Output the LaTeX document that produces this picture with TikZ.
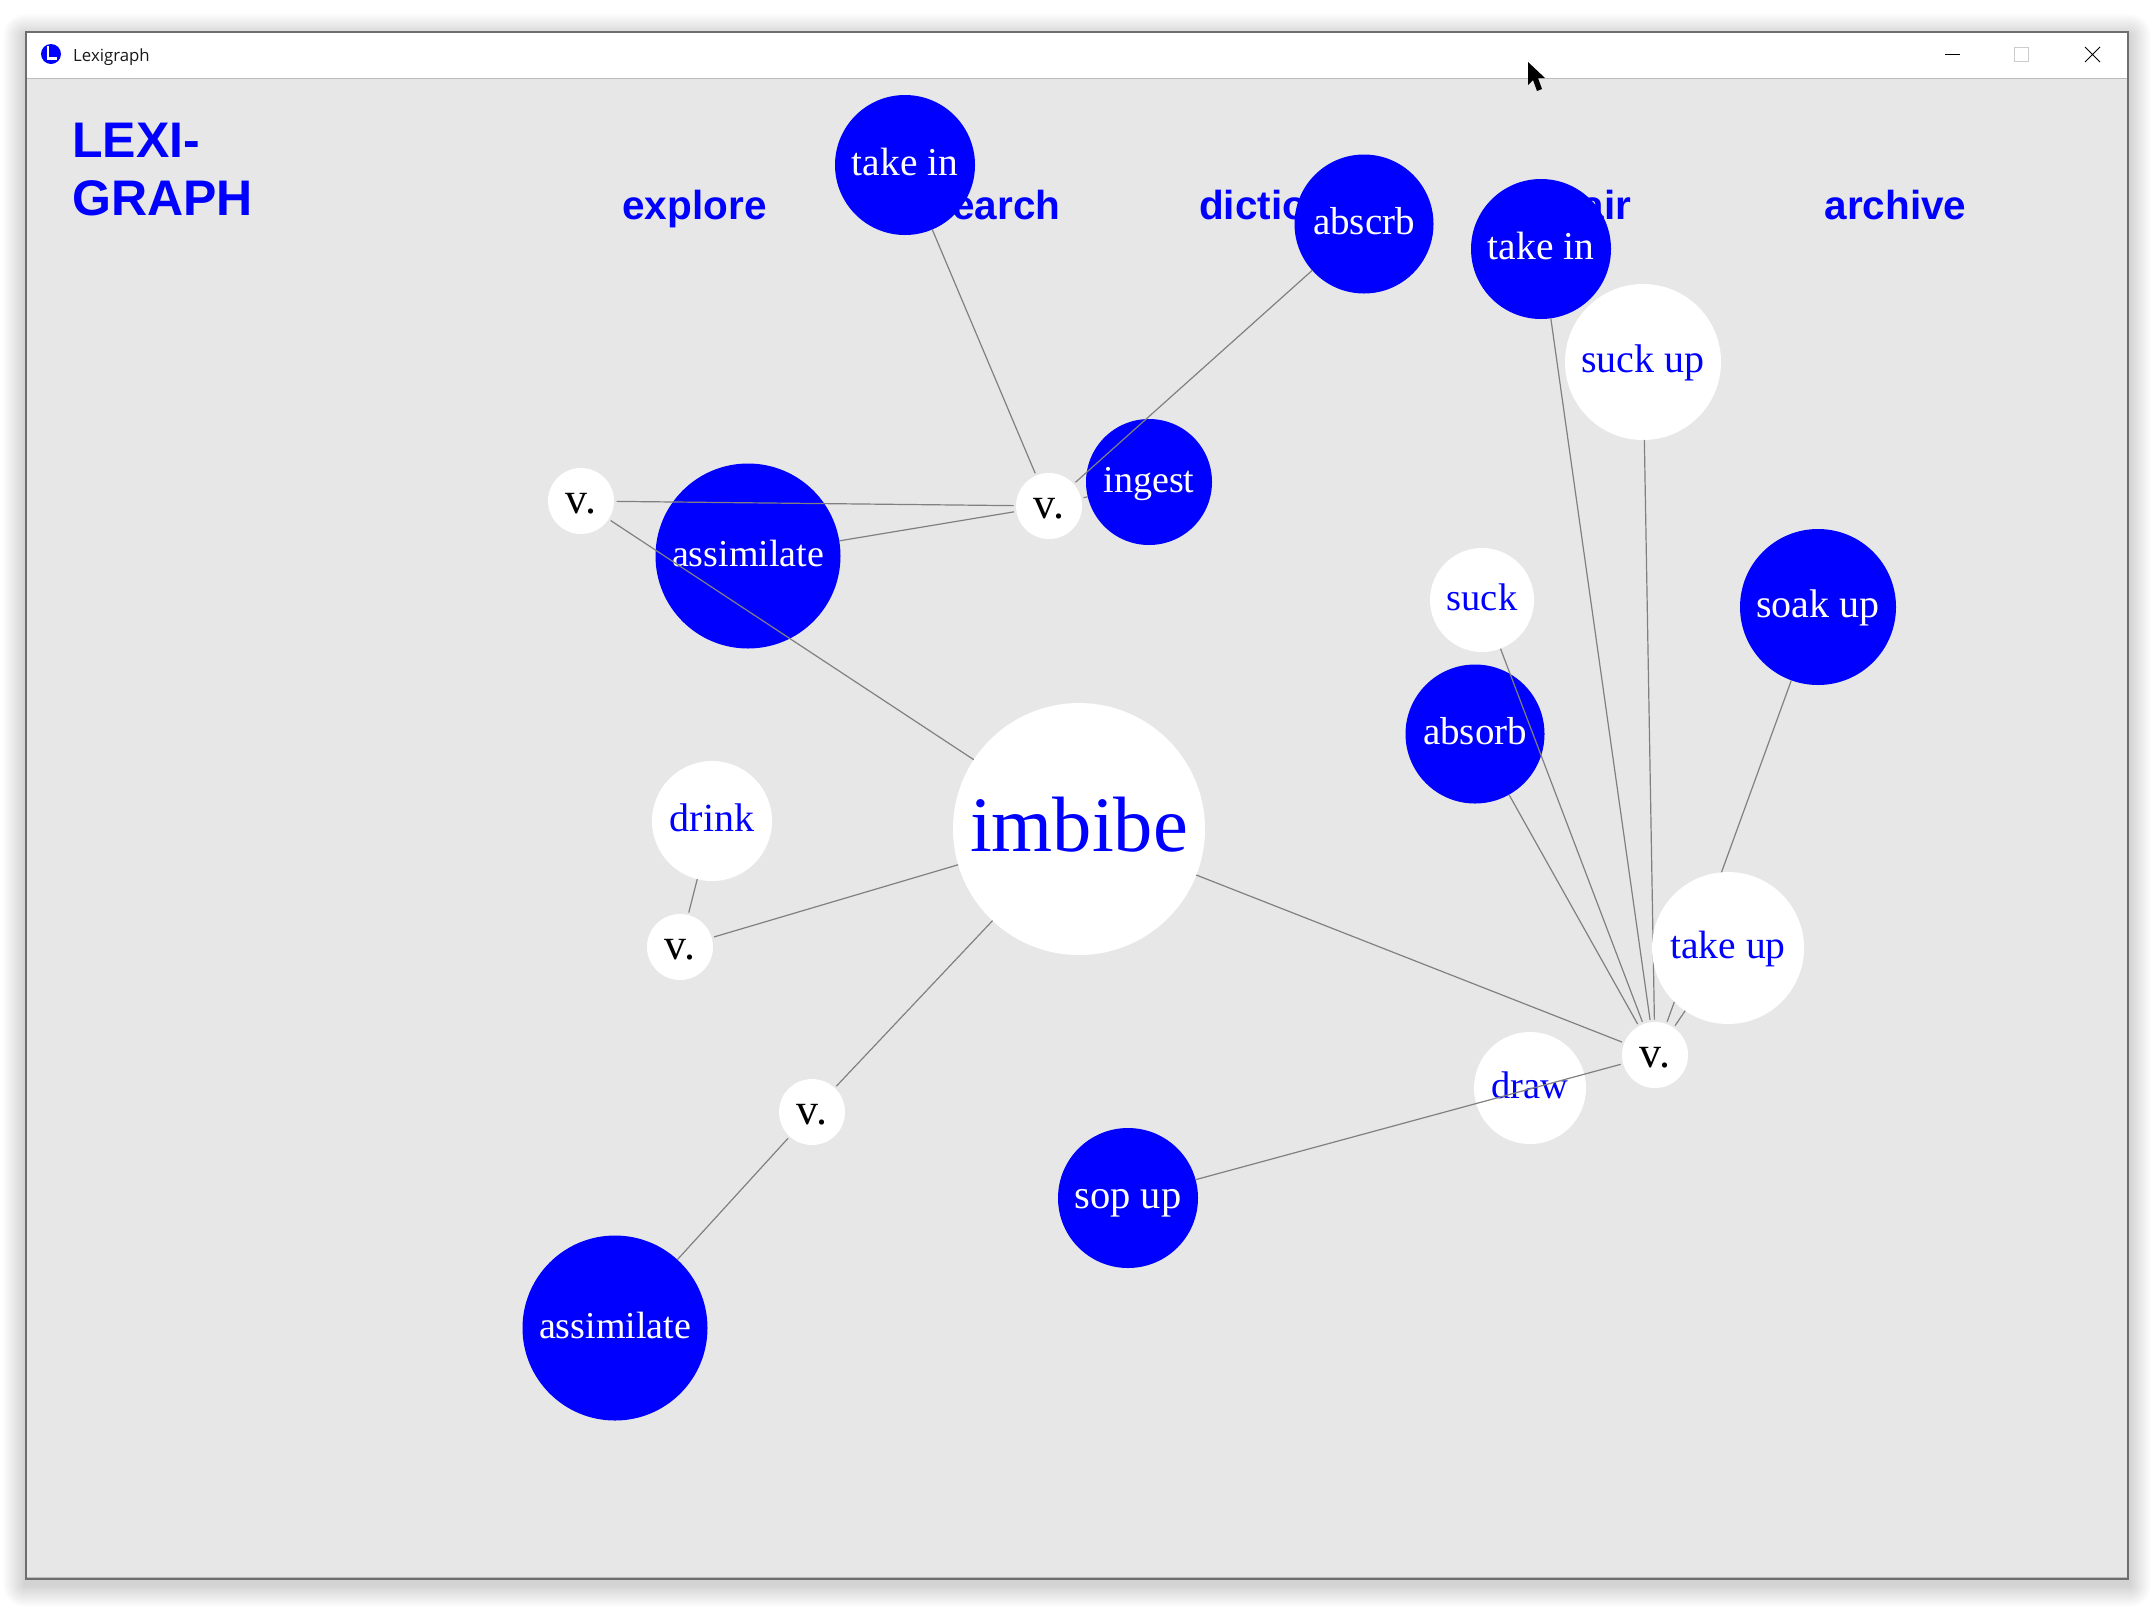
\documentclass[tikz,border=0pt]{standalone}
\usepackage{fontspec}
\setmainfont{Liberation Serif}
\newfontfamily\navfont{Liberation Sans}
\newfontfamily\barfont{Open Sans}
\definecolor{panel}{HTML}{E7E7E7}
\definecolor{linkgray}{HTML}{808080}
\definecolor{framegray}{HTML}{6E6E6E}
\definecolor{rulegray}{HTML}{BBBBBB}
\definecolor{boxgray}{HTML}{CCCCCC}
\definecolor{ballblue}{HTML}{0000FF}
\tikzset{
  ball/.style={circle,inner sep=0pt,outer sep=0pt,text height=20pt,text depth=0pt,font=\fontsize{38}{38}\selectfont},
  sized/.style={font=\fontsize{#1}{#1}\selectfont},
  blueball/.style={ball,fill=ballblue,text=white},
  whiteball/.style={ball,fill=white,text=ballblue},
  posball/.style={ball,fill=white,text=black,minimum size=66pt,outer sep=2.5pt,text height=24pt,font=\fontsize{44}{44}\selectfont},
  link/.style={draw=linkgray,line width=1.2pt},
  navitem/.style={inner sep=0pt,text=ballblue,anchor=base,font=\navfont\bfseries\fontsize{40.5}{40.5}\selectfont},
}
\begin{document}
\begin{tikzpicture}[x=1pt,y=-1pt]
\useasboundingbox (0,0) rectangle (2152,1607);
\fill[white] (0,0) rectangle (2152,1607);
% window shadow
\foreach \r in {1,...,22}{
  \fill[black,opacity=0.007,rounded corners=\r pt] (25-\r,31-\r+5) rectangle (2129+\r,1580+\r+5);
}
% window
\fill[framegray] (25,31) rectangle (2129,1580);
\fill[white] (27,33) rectangle (2127,78);
\fill[panel] (27,78) rectangle (2127,1577);
\draw[rulegray,line width=1pt] (27,78) -- (2127,78);
\draw[rulegray,line width=1pt] (27,1577) -- (2127,1577);
% title bar
\fill[ballblue] (51,54) circle (10);
\draw[white,line width=2.4pt] (48,46) -- (48,58.5) -- (57,58.5);
\node[inner sep=0pt,anchor=base west,text=black!90,font=\barfont\fontsize{16.8}{16.8}\selectfont] (wintitle) at (73,61.5) {Lexigraph};
\draw[black,line width=1pt] (1945,54) -- (1960,54);
\draw[boxgray,line width=1pt] (2014.5,47.5) rectangle (2028.5,61.5);
\draw[black,line width=1pt] (2085,47) -- (2100,62) (2100,47) -- (2085,62);
% heading and menu
\node[inner sep=0pt,anchor=north west,align=left,text=ballblue,font=\navfont\bfseries\fontsize{50}{58}\selectfont] (logo) at (72,123) {LEXI-\\GRAPH};
\node[navitem] (explore) at (694.5,219) {explore};
\node[navitem] (searchitem) at (995,219) {search};
\node[navitem] (dictionary) at (1296,219) {dictionary};
\node[navitem] (pairitem) at (1594,219) {pair};
\node[navitem] (archive) at (1895.5,219) {archive};
% word nodes
\node[whiteball,minimum size=252pt,text height=44pt,sized=78.5] (imbibe) at (1079,829) {imbibe};
\node[blueball,minimum size=185pt] (assimA) at (748,556) {assimilate};
\node[blueball,minimum size=185pt] (assimB) at (615,1328) {assimilate};
\node[whiteball,minimum size=120pt,sized=40] (drink) at (712,821) {drink};
\node[blueball,minimum size=140pt,sized=39.5] (takeinA) at (905,165) {take in};
\node[blueball,minimum size=139pt,sized=39] (absorbA) at (1364,224) {abscrb};
\node[blueball,minimum size=140pt,sized=39.5] (takeinB) at (1541,249) {take in};
\node[whiteball,minimum size=156pt,sized=40] (suckup) at (1643,362) {suck up};
\node[blueball,minimum size=126pt] (ingest) at (1149,482) {ingest};
\node[whiteball,minimum size=104pt,sized=38.5] (suck) at (1482,600) {suck};
\node[blueball,minimum size=139pt,sized=39] (absorbB) at (1475,734) {absorb};
\node[blueball,minimum size=156pt,sized=40] (soakup) at (1818,607) {soak up};
\node[whiteball,minimum size=112pt,sized=38.5] (drawword) at (1530,1088) {draw};
\node[blueball,minimum size=140pt,sized=40.5] (sopup) at (1128,1198) {sop up};
% part-of-speech nodes
\node[posball] (vA) at (581,501) {v.};
\node[posball] (vB) at (1049,506) {v.};
\node[posball] (vC) at (680,947) {v.};
\node[posball] (vD) at (812,1112) {v.};
\node[posball] (vE) at (1655,1055) {v.};
% links that pass under "take up"
\draw[link] (vE) -- (soakup);
\draw[link] (vE) -- (suckup);
\node[whiteball,minimum size=152pt,sized=39.5] (takeup) at (1728,948) {take up};
% remaining links
\draw[link] (imbibe) -- (vA);
\draw[link] (vA) -- (vB);
\draw[link] (vB) -- (assimA);
\draw[link] (vB) -- (takeinA);
\draw[link] (vB) -- (absorbA);
\draw[link] (vB) -- (ingest);
\draw[link] (imbibe) -- (vC);
\draw[link] (vC) -- (drink);
\draw[link] (imbibe) -- (vD);
\draw[link] (vD) -- (assimB);
\draw[link] (imbibe) -- (vE);
\draw[link] (vE) -- (suck);
\draw[link] (vE) -- (absorbB);
\draw[link] (vE) -- (takeinB);
\draw[link] (vE) -- (takeup);
\draw[link] (vE) -- (sopup);
% mouse cursor
\fill[black] (1528,62) -- (1528,85) -- (1533,80) -- (1537,91) -- (1542,89) -- (1538,78) -- (1545,78) -- cycle;
\end{tikzpicture}
\end{document}
